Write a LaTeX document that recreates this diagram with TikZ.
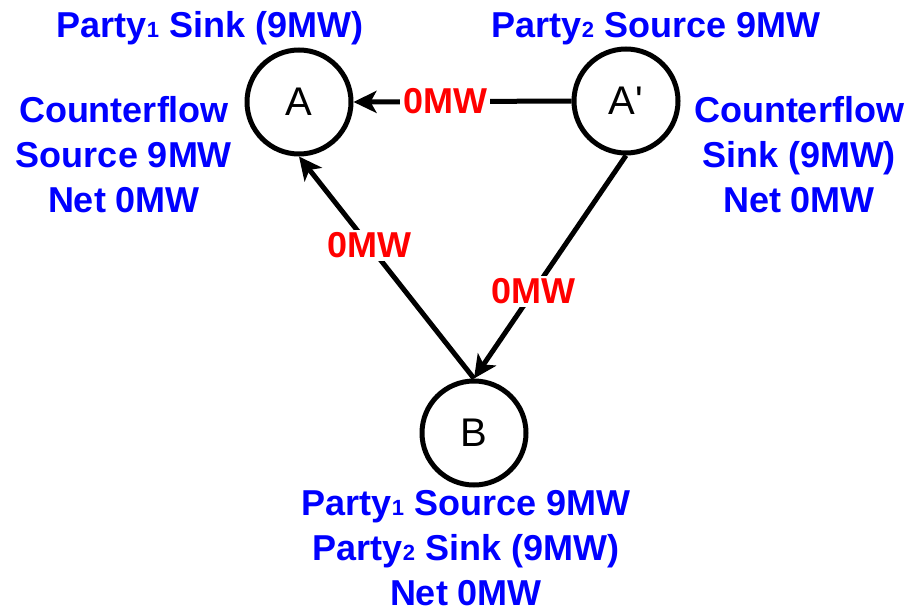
\documentclass[tikz,border=0pt]{standalone}
\usepackage{fontspec}
\setmainfont{Liberation Sans}
\newfontfamily\plainsans{Liberation Sans}
\usetikzlibrary{arrows.meta}
\definecolor{lblblue}{RGB}{0,0,255}
\definecolor{lblred}{RGB}{255,0,0}
\tikzset{
  busnode/.style={circle, draw=black, line width=5pt, minimum size=104pt, inner sep=0pt, font=\plainsans\fontsize{40}{44}\selectfont},
  flow/.style={line width=5pt, -{Stealth[length=23pt,width=22pt,inset=6pt]}},
  flowlbl/.style={fill=white, inner sep=3pt, text=lblred, font=\fontsize{36}{40}\selectfont\bfseries},
  info/.style={text=lblblue, align=center, inner sep=0pt, font=\fontsize{36}{45}\selectfont\bfseries},
}
\newcommand{\subn}[1]{{\fontsize{22}{22}\selectfont #1}}
\begin{document}
\begin{tikzpicture}[x=1pt,y=-1pt]
\useasboundingbox (0,0) rectangle (909,607);
\node[busnode] (A) at (299,102) {A};
\node[busnode] (Ap) at (626,101) {A'};
\node[busnode] (B) at (474,433) {B};

\draw[flow] (Ap.west) -- node[flowlbl, pos=0.58] (l1) {0MW} (A.east);
\draw[flow] (B.north) -- node[flowlbl, pos=0.6] (l2) {0MW} (A.south);
\draw[flow] (Ap.south) -- node[flowlbl, pos=0.61] (l3) {0MW} (B.north);

\node[info, anchor=base] (t1) at (210,38) {Party\subn{1} Sink (9MW)};
\node[info, anchor=base] (t2) at (656,38) {Party\subn{2} Source 9MW};
\node[info, anchor=north] (t3) at (124,96) {Counterflow\\Source 9MW\\Net 0MW};
\node[info, anchor=north] (t4) at (799,96) {Counterflow\\Sink (9MW)\\Net 0MW};
\node[info, anchor=north] (t5) at (466,490) {Party\subn{1} Source 9MW\\Party\subn{2} Sink (9MW)\\Net 0MW};
\end{tikzpicture}
\end{document}
